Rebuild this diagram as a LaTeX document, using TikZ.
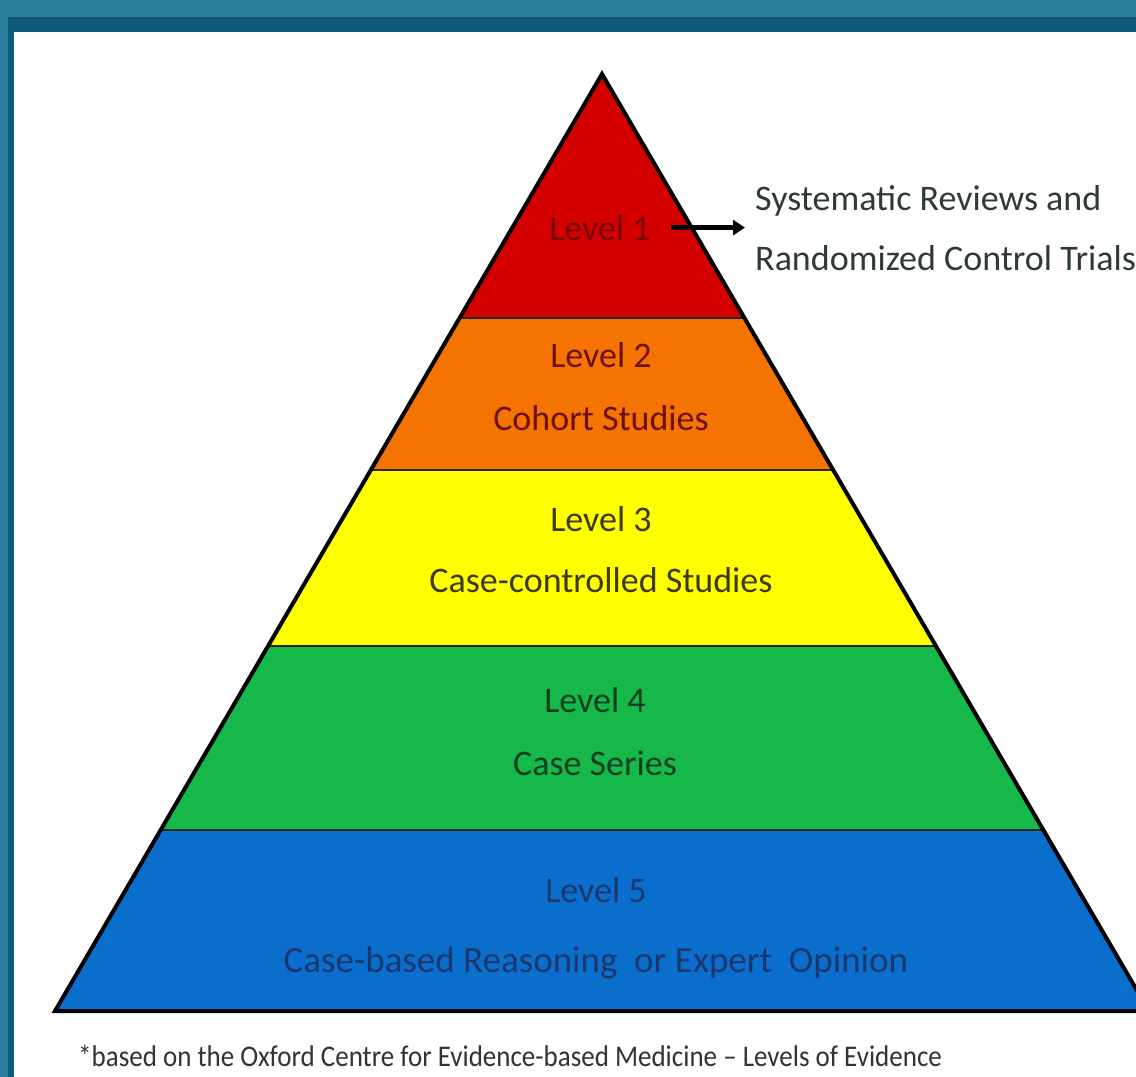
\documentclass[tikz,border=0pt]{standalone}
\usepackage{graphicx}
\usepackage{fontspec}
\setmainfont{Carlito}
\usetikzlibrary{calc,arrows.meta}

\definecolor{frameteal}{HTML}{2A7D9B}
\definecolor{framedark}{HTML}{0D5A78}
\definecolor{lvred}{HTML}{D40000}
\definecolor{lvorange}{HTML}{F57300}
\definecolor{lvyellow}{HTML}{FFFF00}
\definecolor{lvgreen}{HTML}{16B84A}
\definecolor{lvblue}{HTML}{0A6ECC}
\definecolor{txred}{HTML}{780606}
\definecolor{txorange}{HTML}{6E1010}
\definecolor{txyellow}{HTML}{3C3A0C}
\definecolor{txgreen}{HTML}{0E4020}
\definecolor{txblue}{HTML}{1A3770}
\definecolor{txside}{HTML}{2E3A3A}

\tikzset{
  lvtext/.style={font=\fontsize{36}{40}\selectfont, anchor=base, inner sep=0pt},
  sidetext/.style={font=\fontsize{36}{60}\selectfont, align=left, anchor=west, inner sep=0pt, text=txside},
  notetext/.style={font=\fontsize{30}{32}\selectfont, anchor=base west, inner sep=0pt, text=black!80},
  divider/.style={line width=2pt, draw=black!85},
  outline/.style={line width=4pt, draw=black, line join=miter},
  pointer/.style={line width=4.5pt, -{Triangle[length=12pt,width=15pt]}}
}

\begin{document}
\begin{tikzpicture}[x=1pt,y=-1pt]
  \useasboundingbox (0,0) rectangle (1136,1077);
  \clip (0,0) rectangle (1136,1077);

  % frame and white panel
  \fill[frameteal] (0,0) rectangle (1136,1077);
  \fill[framedark] (8,17) rectangle (1136,1077);
  \fill[white] (14,32) rectangle (1136,1077);

  % pyramid corners and layer boundaries
  \coordinate (apex) at (602,74);
  \coordinate (bl) at (55,1011);
  \coordinate (br) at (1149,1011);
  \foreach \n/\t in {1/0.2604, 2/0.4226, 3/0.6105, 4/0.8068}{
    \coordinate (l\n) at ($(apex)!\t!(bl)$);
    \coordinate (r\n) at ($(apex)!\t!(br)$);
  }

  % layers
  \fill[lvred]    (apex) -- (l1) -- (r1) -- cycle;
  \fill[lvorange] (l1) -- (l2) -- (r2) -- (r1) -- cycle;
  \fill[lvyellow] (l2) -- (l3) -- (r3) -- (r2) -- cycle;
  \fill[lvgreen]  (l3) -- (l4) -- (r4) -- (r3) -- cycle;
  \fill[lvblue]   (l4) -- (bl) -- (br) -- (r4) -- cycle;

  \foreach \n in {1,...,4}{ \draw[divider] (l\n) -- (r\n); }
  \draw[outline] (apex) -- (bl) -- (br) -- cycle;

  % level labels
  \node[lvtext, text=txred]    (lev1)  at (600,240) {Level 1};
  \node[lvtext, text=txorange] (lev2)  at (601,367) {Level 2};
  \node[lvtext, text=txorange] (lev2b) at (601,430) {Cohort Studies};
  \node[lvtext, text=txyellow] (lev3)  at (601,531) {Level 3};
  \node[lvtext, text=txyellow] (lev3b) at (601,592) {Case-controlled Studies};
  \node[lvtext, text=txgreen]  (lev4)  at (595,712) {Level 4};
  \node[lvtext, text=txgreen]  (lev4b) at (595,775) {Case Series};
  \node[lvtext, text=txblue]   (lev5)  at (596,902) {Level 5};
  \node[lvtext, text=txblue, font=\fontsize{37}{40}\selectfont] (lev5b) at (596,972) {Case-based Reasoning\ \ or Expert\ \ Opinion};

  % side description with pointer
  \node[sidetext] (sys) at (755,228) {Systematic Reviews and\\Randomized Control Trials};
  \draw[pointer] ([xshift=20pt]lev1.east) -- ([xshift=-10pt]lev1.east -| sys.west);

  % footnote
  \node[notetext] (note) at (78,1066) {\scalebox{0.9}[1]{*based on the Oxford Centre for Evidence-based Medicine -- Levels of Evidence}};
\end{tikzpicture}
\end{document}
